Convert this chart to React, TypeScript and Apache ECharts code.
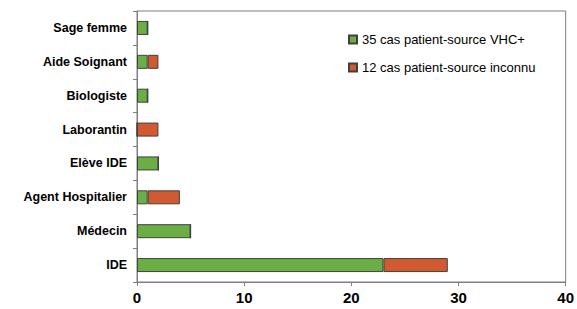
import React, { useEffect, useRef } from "react";
import * as echarts from "echarts";

const categories = ["IDE", "Médecin", "Agent Hospitalier", "Elève IDE", "Laborantin", "Biologiste", "Aide Soignant", "Sage femme"];
const vhcValues = [23, 5, 1, 2, 0, 1, 1, 1];
const unknownValues = [6, 0, 3, 0, 2, 0, 1, 0];
const seriesNames = ["35 cas patient-source VHC+", "12 cas patient-source inconnu"];
const xTicks = [0, 10, 20, 30, 40];

export default function App() {
  const ref = useRef<HTMLDivElement>(null);
  useEffect(() => {
    const chart = echarts.init(ref.current!, null, { renderer: "svg" });
    chart.setOption({
      animation: false,
      grid: { left: 137, right: 11, top: 11, bottom: 27, show: true, borderColor: "#7f7f7f", borderWidth: 1 },
      legend: {
        orient: "vertical",
        left: 343,
        top: 28,
        itemWidth: 8,
        itemHeight: 8,
        itemGap: 15,
        icon: "rect",
        textStyle: { fontFamily: "Liberation Sans, Arial", fontSize: 13, color: "#000" },
        data: seriesNames,
      },
      xAxis: {
        type: "value",
        min: xTicks[0],
        max: xTicks[xTicks.length - 1],
        interval: 10,
        splitLine: { show: false },
        axisLine: { show: true, lineStyle: { color: "#7f7f7f" } },
        axisTick: { show: true, length: 4, lineStyle: { color: "#7f7f7f" } },
        axisLabel: { fontFamily: "Liberation Sans, Arial", fontWeight: "bold", fontSize: 15, color: "#000", margin: 8 },
      },
      yAxis: {
        type: "category",
        data: categories,
        axisLine: { show: true, lineStyle: { color: "#7f7f7f" } },
        axisTick: { show: true, length: 4, lineStyle: { color: "#7f7f7f" } },
        axisLabel: { fontFamily: "Liberation Sans, Arial", fontWeight: "bold", fontSize: 12.5, color: "#000", margin: 10 },
      },
      series: [
        {
          name: seriesNames[0],
          type: "bar",
          stack: "s",
          data: vhcValues,
          barWidth: 14,
          itemStyle: { color: "#6aae45", borderColor: "#404040", borderWidth: 1 },
        },
        {
          name: seriesNames[1],
          type: "bar",
          stack: "s",
          data: unknownValues,
          barWidth: 14,
          itemStyle: { color: "#d15a30", borderColor: "#404040", borderWidth: 1 },
        },
      ],
    });
    return () => chart.dispose();
  }, []);
  return <div ref={ref} style={{ width: 577, height: 309, position: "absolute", left: 0, top: 0, background: "#fff" }} />;
}
